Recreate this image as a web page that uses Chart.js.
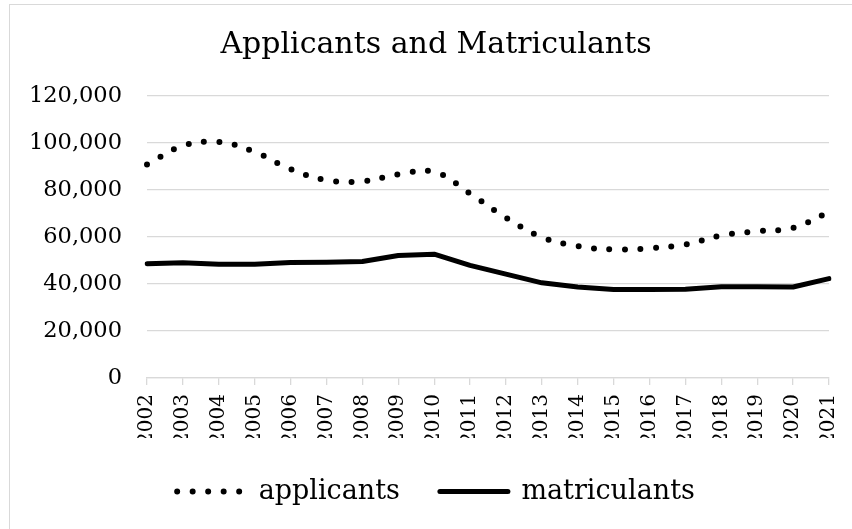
<!DOCTYPE html>
<html><head><meta charset="utf-8">
<script src="https://cdn.jsdelivr.net/npm/chart.js@4.4.1/dist/chart.umd.min.js"></script>
<style>
html,body{margin:0;padding:0;background:#fff;overflow:hidden;width:852px;height:529px;}
#frame{position:absolute;left:9px;top:4px;width:854px;height:560px;border:1px solid #d9d9d9;box-sizing:border-box;background:#fff;}
#wrap{position:absolute;left:0;top:0;width:852px;height:510px;}
</style></head><body>
<div id="frame"><div id="wrap"><canvas id="c"></canvas></div></div>
<script>
const years = ["2002","2003","2004","2005","2006","2007","2008","2009","2010","2011","2012","2013","2014","2015","2016","2017","2018","2019","2020","2021"];
const applicants = [90850,98800,100400,96200,88900,84200,83700,86600,87700,78500,68200,59900,56100,54700,55200,56800,60600,62500,63900,70600];
const matriculants = [48600,49000,48400,48400,49100,49300,49600,52100,52700,47900,44200,40500,38700,37700,37700,37800,38800,38800,38700,42300];
const yTickValues = [0,20000,40000,60000,80000,100000,120000];
const titleText = "Applicants and Matriculants";

Chart.defaults.font.family = "'DejaVu Serif', serif";
Chart.defaults.color = "#000";

new Chart(document.getElementById('c'), {
  type: 'line',
  data: {
    labels: years,
    datasets: [
      {
        label: 'applicants',
        data: applicants,
        borderColor: '#000',
        backgroundColor: '#000',
        borderWidth: 6,
        borderDash: [0, 15.5],
        borderCapStyle: 'round',
        borderJoinStyle: 'round',
        tension: 0.4,
        pointRadius: 0,
        pointHoverRadius: 0,
        fill: false
      },
      {
        label: 'matriculants',
        data: matriculants,
        borderColor: '#000',
        backgroundColor: '#000',
        borderWidth: 5,
        borderCapStyle: 'round',
        borderJoinStyle: 'round',
        tension: 0,
        pointRadius: 0,
        pointHoverRadius: 0,
        fill: false
      }
    ]
  },
  options: {
    responsive: true,
    maintainAspectRatio: false,
    animation: false,
    layout: { padding: { left: 0, right: 0, top: 0, bottom: 0 } },
    plugins: {
      title: {
        display: true,
        text: titleText,
        color: '#000',
        font: { size: 30, weight: 'normal' },
        padding: { top: 22, bottom: 33 }
      },
      legend: {
        display: true,
        position: 'bottom',
        labels: {
          usePointStyle: true,
          pointStyle: 'line',
          pointStyleWidth: 68,
          padding: 40,
          color: '#000',
          font: { size: 27 },
          generateLabels: (chart) => {
            const items = Chart.defaults.plugins.legend.labels.generateLabels(chart);
            items.forEach((it) => {
              const ds = chart.data.datasets[it.datasetIndex];
              it.lineDash = ds.borderDash || [];
              it.lineCap = ds.borderCapStyle;
              it.lineWidth = ds.borderWidth;
              it.strokeStyle = ds.borderColor;
              it.fillStyle = ds.borderColor;
              it.pointStyle = 'line';
            });
            return items;
          }
        }
      },
      tooltip: { enabled: false }
    },
    scales: {
      x: {
        offset: false,
        grid: { drawOnChartArea: false, drawTicks: true, tickLength: 7, color: '#d9d9d9', lineWidth: 1.3 },
        border: { display: true, color: '#d9d9d9', width: 1.3 },
        ticks: { minRotation: 90, maxRotation: 90, autoSkip: false, padding: 9, font: { size: 20 }, color: '#000' },
        afterFit: (s) => { s.height = 60; }
      },
      y: {
        min: 0,
        max: 120000,
        grid: { drawTicks: false, color: '#d9d9d9', lineWidth: 1.3 },
        border: { display: false },
        afterBuildTicks: (s) => { s.ticks = yTickValues.map(v => ({ value: v })); },
        ticks: {
          padding: 25,
          font: { size: 22.5 },
          color: '#000',
          callback: (v) => Number(v).toLocaleString('en-US')
        },
        afterFit: (s) => { s.width = 137; }
      },
      yRightSpace: {
        position: 'right',
        display: true,
        grid: { display: false, drawOnChartArea: false, drawTicks: false },
        border: { display: false },
        ticks: { display: false },
        afterFit: (s) => { s.width = 27; }
      }
    }
  }
});
</script>
</body></html>
